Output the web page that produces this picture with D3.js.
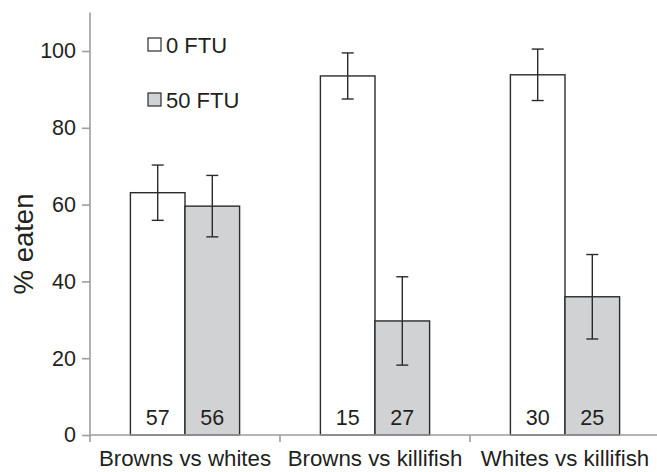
<!DOCTYPE html>
<html>
<head>
<meta charset="utf-8">
<script src="https://cdn.jsdelivr.net/npm/d3@7"></script>
<style>
body { margin: 0; background: #fff; }
text { font-family: "Liberation Sans", Arial, sans-serif; fill: #231f20; }
</style>
</head>
<body>
<div id="chart"></div>
<script>
var categories = ["Browns vs whites", "Browns vs killifish", "Whites vs killifish"]
var seriesNames = ["0 FTU", "50 FTU"]
var ftu0 = [63.1, 93.5, 93.8]
var ftu0Err = [7.2, 6.0, 6.7]
var ftu50 = [59.6, 29.7, 36.0]
var ftu50Err = [8.0, 11.5, 11.0]
var n0 = [57, 15, 30]
var n50 = [56, 27, 25]
var yTicks = [0, 20, 40, 60, 80, 100]

var width = 657
var height = 472
var colors = ["#ffffff", "#d1d2d4"]

var svg = d3.select("#chart")
    .append("svg")
    .attr("width", width)
    .attr("height", height)

var xScale = d3.scaleBand()
    .domain(categories)
    .range([90, 660])

var xInner = d3.scaleBand()
    .domain(seriesNames)
    .range([0, xScale.bandwidth()])
    .paddingOuter(0.74)

var yScale = d3.scaleLinear()
    .domain([0, 110])
    .range([435, 12.6])

// rows for the bars
var rows = []
categories.forEach(function(c, i) {
    rows.push({cat: c, s: seriesNames[0], v: ftu0[i], e: ftu0Err[i], n: n0[i], k: 0})
    rows.push({cat: c, s: seriesNames[1], v: ftu50[i], e: ftu50Err[i], n: n50[i], k: 1})
})

var bars = svg.append("g")
bars.selectAll("rect")
    .data(rows)
    .enter()
    .append("rect")
    .attr("x", function(d) { return xScale(d.cat) + xInner(d.s) })
    .attr("y", function(d) { return yScale(d.v) })
    .attr("width", xInner.bandwidth())
    .attr("height", function(d) { return yScale(0) - yScale(d.v) })
    .attr("fill", function(d) { return colors[d.k] })
    .attr("stroke", "#2b2b2b")
    .attr("stroke-width", 1.4)

// error bars
var err = svg.append("g")
    .attr("stroke", "#2b2b2b")
    .attr("stroke-width", 1.4)
rows.forEach(function(d) {
    var cx = xScale(d.cat) + xInner(d.s) + xInner.bandwidth() / 2
    err.append("line")
        .attr("x1", cx).attr("x2", cx)
        .attr("y1", yScale(d.v + d.e)).attr("y2", yScale(d.v - d.e))
    err.append("line")
        .attr("x1", cx - 6).attr("x2", cx + 6)
        .attr("y1", yScale(d.v + d.e)).attr("y2", yScale(d.v + d.e))
    err.append("line")
        .attr("x1", cx - 6).attr("x2", cx + 6)
        .attr("y1", yScale(d.v - d.e)).attr("y2", yScale(d.v - d.e))
})

// sample sizes
svg.append("g")
    .selectAll("text")
    .data(rows)
    .enter()
    .append("text")
    .attr("x", function(d) { return xScale(d.cat) + xInner(d.s) + xInner.bandwidth() / 2 })
    .attr("y", 425)
    .attr("text-anchor", "middle")
    .style("font-size", "21.5px")
    .text(function(d) { return d.n })

// y axis
var yAxis = d3.axisLeft(yScale)
    .tickValues(yTicks)
    .tickSize(8)
    .tickPadding(6)
var yg = svg.append("g")
    .attr("transform", "translate(90,0)")
    .call(yAxis)
yg.select(".domain").attr("stroke", "#9d9d9d").attr("stroke-width", 1.6)
    .attr("d", "M0," + yScale(0) + "V" + yScale(110))
yg.selectAll(".tick line").attr("stroke", "#9d9d9d").attr("stroke-width", 1.6)
yg.selectAll(".tick text").style("font-size", "21.5px").attr("fill", "#231f20")

// x axis
var xg = svg.append("g")
    .attr("transform", "translate(0," + yScale(0) + ")")
xg.append("line")
    .attr("x1", 90).attr("x2", 660)
    .attr("stroke", "#9d9d9d").attr("stroke-width", 1.6)
xg.selectAll(".xtick")
    .data(categories)
    .enter()
    .append("line")
    .attr("x1", function(d) { return xScale(d) })
    .attr("x2", function(d) { return xScale(d) })
    .attr("y1", 0).attr("y2", 7)
    .attr("stroke", "#9d9d9d").attr("stroke-width", 1.6)
xg.selectAll("text")
    .data(categories)
    .enter()
    .append("text")
    .attr("x", function(d) { return xScale(d) + xScale.bandwidth() / 2 })
    .attr("y", 31)
    .attr("text-anchor", "middle")
    .style("font-size", "22.3px")
    .text(function(d) { return d })

// y label
svg.append("text")
    .attr("transform", "translate(33,244) rotate(-90)")
    .attr("text-anchor", "middle")
    .style("font-size", "27.5px")
    .text("% eaten")

// legend
var legend = svg.append("g")
seriesNames.forEach(function(s, i) {
    var y0 = 38 + i * 55
    legend.append("rect")
        .attr("x", 148).attr("y", y0)
        .attr("width", 13).attr("height", 13)
        .attr("fill", colors[i])
        .attr("stroke", "#2b2b2b")
        .attr("stroke-width", 1.2)
    legend.append("text")
        .attr("x", 166).attr("y", y0 + 15)
        .style("font-size", "22px")
        .text(s)
})
</script>
</body>
</html>
